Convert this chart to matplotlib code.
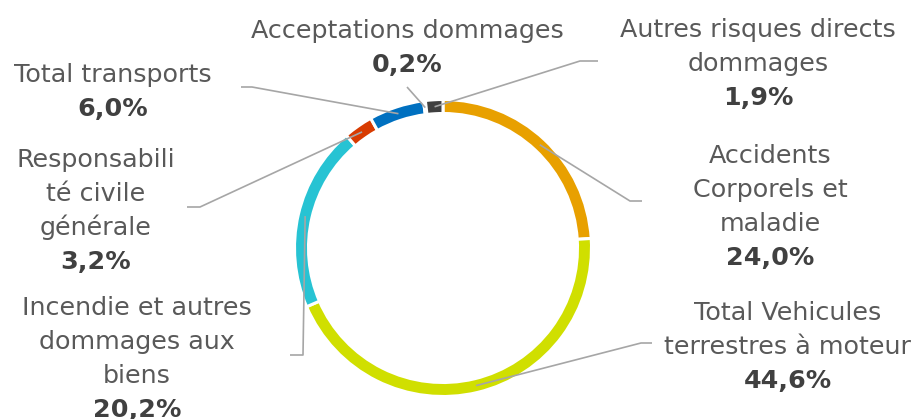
import numpy as np
import matplotlib
matplotlib.use('Agg')
import matplotlib.pyplot as plt

# segments, clockwise from 12 o'clock
labels = ['Accidents\nCorporels et\nmaladie',
          'Total Vehicules\nterrestres à moteur',
          'Incendie et autres\ndommages aux\nbiens',
          'Responsabili\nté civile\ngénérale',
          'Total transports',
          'Acceptations dommages',
          'Autres risques directs\ndommages']
values = [24.0, 44.6, 20.2, 3.2, 6.0, 0.2, 1.9]
colors = ['#E8A000', '#D0DF00', '#27C3D3', '#D83B01', '#0070C0', '#7F7F7F', '#404040']

W, H = 916, 419
cx, cy, R, ring = 443, H - 248, 148.5, 14

# label layout (pixel coords, y from top): text centre x, first baseline, knee, line start
lab_x  = [770, 788, 137, 96, 113, 407, 758]
lab_y0 = [163, 320, 315, 167, 82, 38, 37]
knee   = [(630, 201), (641, 343), (303, 355), (200, 207), (252, 87), (407, 87), (580, 61)]
tail   = [(642, 201), (652, 343), (290, 355), (187, 207), (241, 87), None, (598, 61)]
pitch = 34

fig = plt.figure(figsize=(W / 100, H / 100), dpi=100)
ax = fig.add_axes([0, 0, 1, 1])
ax.pie(values, colors=colors, startangle=90, counterclock=False,
       radius=R, center=(cx, cy),
       wedgeprops=dict(width=ring, edgecolor='white', linewidth=2.2))
ax.set_xlim(0, W)
ax.set_ylim(0, H)
ax.set_aspect('equal', adjustable='box')
ax.axis('off')

tot = sum(values)
cum = np.cumsum([0] + values[:-1]) / tot
mid = (cum + np.array(values) / tot / 2) * 2 * np.pi
rm = R - ring / 2

for i, lab in enumerate(labels):
    px = cx + rm * np.sin(mid[i])
    py = cy + rm * np.cos(mid[i])
    kx, ky = knee[i]
    xs, ys = [px, kx], [py, H - ky]
    if tail[i] is not None:
        xs.append(tail[i][0]); ys.append(H - tail[i][1])
    ax.plot(xs, ys, color='#A6A6A6', lw=1.2, solid_capstyle='butt', zorder=5)

    lines = lab.split('\n')
    for j, ln in enumerate(lines):
        ax.text(lab_x[i], H - (lab_y0[i] + j * pitch), ln, ha='center', va='baseline',
                fontsize=18.3, color='#595959', family='DejaVu Sans')
    pct = f'{values[i]:.1f}'.replace('.', ',') + '%'
    ax.text(lab_x[i], H - (lab_y0[i] + len(lines) * pitch), pct, ha='center', va='baseline',
            fontsize=18.3, color='#404040', fontweight='bold', family='DejaVu Sans')

plt.savefig('out.png', dpi=100)
